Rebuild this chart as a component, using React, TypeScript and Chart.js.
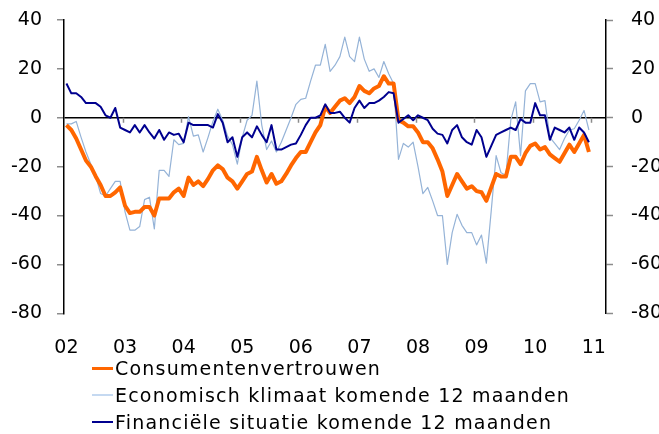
import React, { useEffect, useRef } from "react";
import { Chart, registerables } from "chart.js";

Chart.register(...registerables);

// Monthly categories Jan 2002 .. Mar 2011 (data runs to Dec 2010)
const months: string[] = [];
for (let y = 2002; y <= 2011; y++) {
  for (let m = 1; m <= 12; m++) {
    if (y === 2011 && m > 3) break;
    months.push(`${y}-${String(m).padStart(2, "0")}`);
  }
}

const seriesNames = [
  "Consumentenvertrouwen",
  "Economisch klimaat komende 12 maanden",
  "Financiële situatie komende 12 maanden",
];

const consumentenvertrouwen = [
  -3, -5, -8.5, -13, -17.5, -20, -24, -27.5, -32, -32, -30.5, -28.5,
  -36, -39, -38.5, -38.5, -36.5, -36.5, -40, -33, -33, -33, -30.5, -29,
  -32, -24.5, -27.5, -26, -28, -25, -21.5, -19.5, -21, -24.5, -26, -29,
  -26, -23, -22, -16, -21.5, -26.5, -23, -27, -26, -23, -19.5, -16.5,
  -14, -14, -10, -6, -3, 4.5, 2, 4.5, 7, 8, 6, 8.5,
  13, 11, 10, 12, 13, 17, 14, 14, -1, -2, -3.5, -3.5,
  -6, -10, -10, -12.5, -17, -22, -32, -27.5, -23, -26, -29, -28,
  -30, -30.5, -34, -28.5, -23, -24, -24, -16, -16, -19, -14.5, -11.5,
  -10.5, -13, -12, -15, -16.5, -18, -14.5, -11, -14, -10.5, -7, -14,
];

const economischKlimaat = [
  -2.5, -2.5, -1.5, -8, -14, -19, -24, -31, -32, -29, -26, -26,
  -38.5, -46, -46, -44.5, -33.5, -32.5, -45.5, -21.5, -21.5, -24, -9, -11,
  -10.5, 0.5, -7.5, -7, -14, -8, -1.5, 3.5, -1, -7.5, -11, -19,
  -8, -1, 1, 15, -3, -13, -9.5, -14, -10, -5, 0, 5.5,
  7.5, 8, 15, 21.5, 21.5, 30, 19, 21.5, 25, 33, 25, 23,
  33, 24, 19, 20, 16.5, 23, 18, 14, -17, -10.5, -12, -10,
  -20, -31, -28.5, -34, -40, -40, -60, -47, -39.5, -44, -47, -47,
  -52, -48, -59.5, -38, -15.5, -22.5, -23.5, -1, 6.5, -15.5, 11, 14,
  14, 6.5, 7, -8, -10.5, -13, -8.5, -5, -4.5, -1, 3, -5,
];

const financieleSituatie = [
  14, 10, 10, 8.5, 6, 6, 6, 4.5, 1, 0, 4, -4,
  -5, -6, -3, -6, -3, -6, -8.5, -5, -9, -6, -7, -6.5,
  -10, -2, -3, -3, -3, -3, -4, 1.5, -2, -10, -8, -16,
  -8, -6, -8, -3.5, -7, -10, -3, -13, -13, -12, -11, -10.5,
  -7, -3, 0, 0, 1, 5.5, 2, 2, 2.5, 0, -2, 4,
  7, 4, 6, 6, 7, 8.5, 10.5, 10, -2, -0.5, 1, -1,
  1, 0, -1, -4.5, -6.5, -7, -10.5, -5, -3, -8, -10, -11,
  -5, -8, -16, -11.5, -7, -6, -5, -4, -5, -0.5, -2, -2,
  6, 1, 1, -9, -4, -5, -6, -4, -9, -4, -6, -10,
];

const yMin = -80;
const yMax = 40;
const yStep = 20;

const colors = ["#FF6600", "#95B3D7", "#00008F"];
const widths = [4, 1.2, 2];

const FONT = "'DejaVu Sans', Verdana, sans-serif";
const CANVAS_W = 700;
const CANVAS_H = 360;
const LEFT = 64;
const RIGHT = 606;
const TOP = 20;
const BOTTOM = 313.3;

const zeroAxisTicks = {
  id: "zeroAxisTicks",
  afterDatasetsDraw(chart: any) {
    const xs = chart.scales.x;
    const ys = chart.scales.y;
    const ctx = chart.ctx;
    const y0 = ys.getPixelForValue(0);
    const half = (xs.getPixelForValue(1) - xs.getPixelForValue(0)) / 2;
    ctx.save();
    ctx.strokeStyle = "#8c8c8c";
    ctx.lineWidth = 1.5;
    months.forEach((m, i) => {
      if (i > 0 && m.endsWith("-01")) {
        const px = Math.round(xs.getPixelForValue(i) - half) + 0.5;
        ctx.beginPath();
        ctx.moveTo(px, y0);
        ctx.lineTo(px, y0 + 5);
        ctx.stroke();
      }
    });
    ctx.restore();
  },
};

export default function App() {
  const ref = useRef<HTMLCanvasElement>(null);

  useEffect(() => {
    if (!ref.current) return;
    const seriesData = [consumentenvertrouwen, economischKlimaat, financieleSituatie];
    const orders = [1, 2, 0];
    const chart = new Chart(ref.current, {
      type: "line",
      data: {
        labels: months,
        datasets: seriesData.map((d, k) => ({
          label: seriesNames[k],
          data: d,
          borderColor: colors[k],
          backgroundColor: colors[k],
          borderWidth: widths[k],
          pointRadius: 0,
          tension: 0,
          borderJoinStyle: "round" as const,
          order: orders[k],
          yAxisID: "y",
        })),
      },
      options: {
        animation: false,
        responsive: false,
        devicePixelRatio: 1,
        layout: { padding: { top: TOP, left: 0, right: 0, bottom: 0 } },
        plugins: {
          legend: { display: false },
          tooltip: { enabled: false },
        },
        scales: {
          x: {
            type: "category",
            offset: true,
            grid: { display: false },
            border: { display: false },
            ticks: {
              autoSkip: false,
              maxRotation: 0,
              minRotation: 0,
              padding: 15,
              color: "#000",
              font: { family: FONT, size: 19 },
              callback: (_v: any, i: number) =>
                months[i] && months[i].endsWith("-01") ? months[i].slice(2, 4) : "",
            },
            afterFit: (s: any) => {
              s.height = CANVAS_H - BOTTOM;
              s.paddingLeft = 0;
              s.paddingRight = 0;
            },
          },
          y: {
            position: "left",
            min: yMin,
            max: yMax,
            ticks: {
              stepSize: yStep,
              padding: 15,
              color: "#000",
              font: { family: FONT, size: 19 },
            },
            grid: {
              color: (c: any) => (c.tick && c.tick.value === 0 ? "#000" : "rgba(0,0,0,0)"),
              lineWidth: 1.5,
              tickColor: "#8c8c8c",
              tickLength: 7,
              tickWidth: 1.5,
            },
            border: { display: true, color: "#000", width: 1.5 },
            afterFit: (s: any) => {
              s.width = LEFT;
              s.paddingTop = 0;
              s.paddingBottom = 0;
            },
          },
          y2: {
            position: "right",
            min: yMin,
            max: yMax,
            ticks: {
              stepSize: yStep,
              padding: 18,
              color: "#000",
              font: { family: FONT, size: 19 },
            },
            grid: {
              drawOnChartArea: false,
              tickColor: "#8c8c8c",
              tickLength: 7,
              tickWidth: 1.5,
            },
            border: { display: true, color: "#000", width: 1.5 },
            afterFit: (s: any) => {
              s.width = CANVAS_W - RIGHT;
              s.paddingTop = 0;
              s.paddingBottom = 0;
            },
          },
        },
      },
      plugins: [zeroAxisTicks],
    });
    return () => chart.destroy();
  }, []);

  const rowH = 27;
  return (
    <div
      style={{
        position: "fixed",
        left: 0,
        top: 0,
        width: 659,
        height: 434,
        overflow: "hidden",
        background: "#fff",
      }}
    >
      <canvas
        ref={ref}
        width={CANVAS_W}
        height={CANVAS_H}
        style={{ position: "absolute", left: 0, top: 0, width: CANVAS_W, height: CANVAS_H }}
      />
      <div
        style={{
          position: "absolute",
          left: 92,
          top: 354.5,
          fontFamily: FONT,
          fontSize: 19,
          letterSpacing: "1.2px",
          color: "#000",
        }}
      >
        {seriesNames.map((name, k) => (
          <div
            key={name}
            style={{ display: "flex", alignItems: "center", height: rowH, lineHeight: `${rowH}px`, whiteSpace: "nowrap" }}
          >
            <span
              style={{
                display: "inline-block",
                width: 21,
                height: k === 0 ? 3 : k === 1 ? 1.5 : 2,
                background: k === 1 ? "#C5D9F1" : colors[k],
                marginRight: 2,
              }}
            />
            <span>{name}</span>
          </div>
        ))}
      </div>
    </div>
  );
}
